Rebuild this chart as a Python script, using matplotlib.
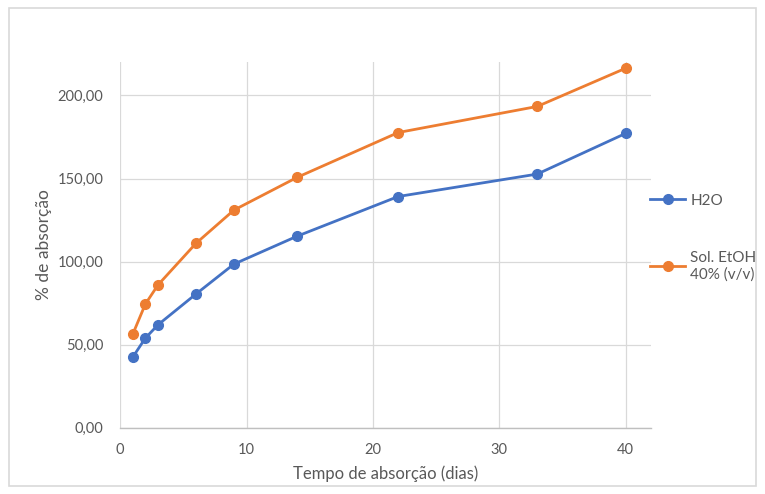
import matplotlib.pyplot as plt
from matplotlib.patches import FancyBboxPatch

dias = [1, 2, 3, 6, 9, 14, 22, 33, 40]
h2o = [42.5, 54, 62, 80.5, 98.5, 115.3, 139.2, 152.7, 177.2]
etoh = [56.3, 74.5, 86, 111, 131, 150.7, 177.7, 193.4, 216.4]
nomes = ['H2O', 'Sol. EtOH\n40% (v/v)']
yticks = [0, 50, 100, 150, 200]
xticks = [0, 10, 20, 30, 40]

plt.rcParams['font.family'] = ['Lato', 'DejaVu Sans']
cinza = '#595959'

fig = plt.figure(figsize=(7.65, 4.94), dpi=100)
fig.patches.append(FancyBboxPatch((0.012, 0.016), 0.976, 0.968, boxstyle='square,pad=0',
                                  transform=fig.transFigure, fill=False,
                                  edgecolor='#D9D9D9', linewidth=1.2))
ax = fig.add_axes([0.157, 0.134, 0.694, 0.740])

ax.plot(dias, h2o, color='#4472C4', marker='o', markersize=7, linewidth=2, label=nomes[0])
ax.plot(dias, etoh, color='#ED7D31', marker='o', markersize=7, linewidth=2, label=nomes[1])

ax.set_xlim(0, 42)
ax.set_ylim(0, 220)
ax.set_xticks(xticks)
ax.set_yticks(yticks)
ax.set_yticklabels([f'{v:.2f}'.replace('.', ',') for v in yticks])
ax.grid(True, color='#D9D9D9', linewidth=0.9)
ax.set_axisbelow(True)
for s in ['top', 'right', 'left']:
    ax.spines[s].set_visible(False)
ax.spines['bottom'].set_color('#BFBFBF')
ax.spines['bottom'].set_linewidth(1)
ax.tick_params(length=0, labelsize=10.5, colors=cinza)
ax.tick_params(axis='y', pad=12)
ax.tick_params(axis='x', pad=11)

ax.set_xlabel('Tempo de absorção (dias)', fontsize=12, color=cinza, labelpad=6)
ax.set_ylabel('% de absorção', fontsize=12.5, color=cinza, labelpad=4)

ax.legend(loc='upper left', bbox_to_anchor=(0.998, 0.64), frameon=False, fontsize=11,
          labelcolor=cinza, handlelength=2.3, labelspacing=2.8, handletextpad=0.35,
          borderpad=0, borderaxespad=0)

fig.savefig('out.png', dpi=100)
